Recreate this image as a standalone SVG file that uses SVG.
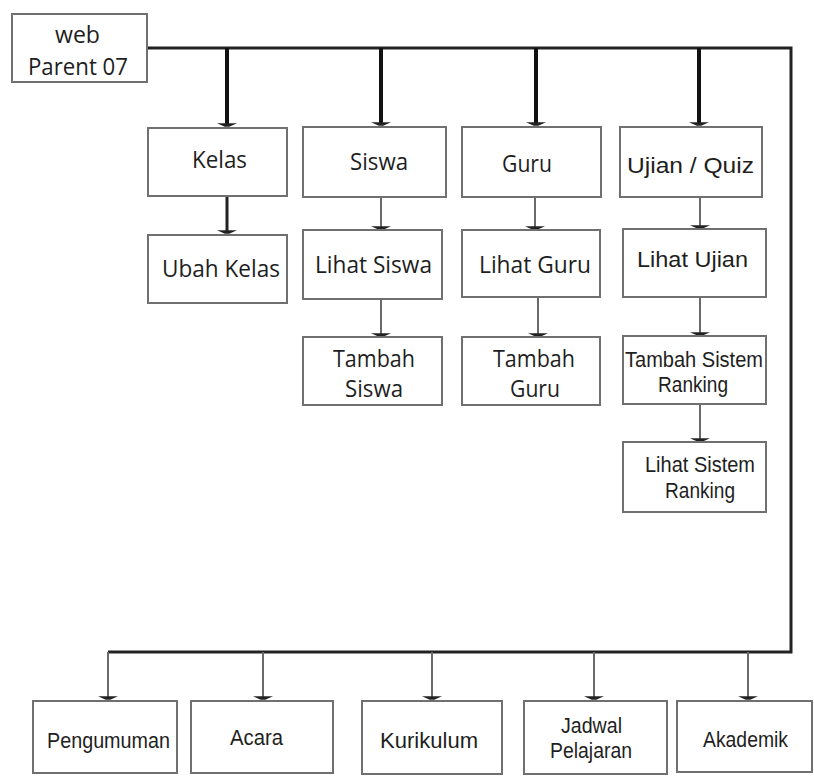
<svg xmlns="http://www.w3.org/2000/svg" width="814" height="780" viewBox="0 0 814 780">
<style>
  .box{fill:#fff;stroke:#707070;stroke-width:2}
  .os{font-family:"Open Sans","DejaVu Sans",sans-serif;font-size:23px;fill:#1e1e1e}
  .ar{font-family:"Liberation Sans",Arial,sans-serif;font-size:22px;fill:#1e1e1e}
  .thick{stroke:#111;stroke-width:4;fill:none}
  .mid{stroke:#222;stroke-width:3;fill:none}
  .thin{stroke:#6a6a6a;stroke-width:2;fill:none}
</style>
<defs>
  <marker id="tick" markerUnits="userSpaceOnUse" markerWidth="20" markerHeight="6" viewBox="0 0 18 4" refX="9" refY="2" orient="0">
    <path d="M0 0.5 H18 L11 3.5 H7 Z" fill="#222"/>
  </marker>
</defs>
<rect width="814" height="780" fill="#fff"/>
<g id="connectors">
  <path class="mid" d="M147 48 H791 V652 H108"/>
  <path class="thick" d="M227 48 V125" marker-end="url(#tick)"/>
  <path class="thick" d="M381 48 V124" marker-end="url(#tick)"/>
  <path class="thick" d="M536 48 V124" marker-end="url(#tick)"/>
  <path class="thick" d="M699 48 V124" marker-end="url(#tick)"/>
  <path class="mid" d="M227 197 V232" marker-end="url(#tick)"/>
  <path class="thin" d="M381 197 V228" marker-end="url(#tick)"/>
  <path class="thin" d="M381 299 V335" marker-end="url(#tick)"/>
  <path class="thin" d="M535 197 V228" marker-end="url(#tick)"/>
  <path class="thin" d="M538 297 V335" marker-end="url(#tick)"/>
  <path class="thin" d="M700 197 V227" marker-end="url(#tick)"/>
  <path class="thin" d="M700 297 V334" marker-end="url(#tick)"/>
  <path class="thin" d="M700 404 V440" marker-end="url(#tick)"/>
  <path class="thin" d="M108 652 V698" marker-end="url(#tick)"/>
  <path class="thin" d="M263 652 V698" marker-end="url(#tick)"/>
  <path class="thin" d="M432 652 V698" marker-end="url(#tick)"/>
  <path class="thin" d="M594 652 V698" marker-end="url(#tick)"/>
  <path class="thin" d="M748 652 V698" marker-end="url(#tick)"/>
</g>
<g id="root"><rect class="box" x="12" y="14" width="135" height="68"/>
  <text class="os" x="55" y="43" textLength="45" lengthAdjust="spacingAndGlyphs">web</text>
  <text class="os" x="28" y="75" textLength="100" lengthAdjust="spacingAndGlyphs">Parent 07</text></g>
<g id="kelas"><rect class="box" x="148" y="128" width="139" height="68"/>
  <text class="os" x="192" y="168" textLength="55" lengthAdjust="spacingAndGlyphs">Kelas</text></g>
<g id="ubah-kelas"><rect class="box" x="148" y="235" width="139" height="68"/>
  <text class="os" x="162" y="277" textLength="118" lengthAdjust="spacingAndGlyphs">Ubah Kelas</text></g>
<g id="siswa"><rect class="box" x="303" y="127" width="143" height="70"/>
  <text class="os" x="350" y="170" textLength="58" lengthAdjust="spacingAndGlyphs">Siswa</text></g>
<g id="lihat-siswa"><rect class="box" x="303" y="230" width="139" height="69"/>
  <text class="os" x="315" y="273" textLength="117" lengthAdjust="spacingAndGlyphs">Lihat Siswa</text></g>
<g id="tambah-siswa"><rect class="box" x="303" y="337" width="139" height="68"/>
  <text class="os" x="333" y="367" textLength="82" lengthAdjust="spacingAndGlyphs">Tambah</text>
  <text class="os" x="345" y="397" textLength="58" lengthAdjust="spacingAndGlyphs">Siswa</text></g>
<g id="guru"><rect class="box" x="462" y="127" width="139" height="70"/>
  <text class="os" x="502" y="172" textLength="50" lengthAdjust="spacingAndGlyphs">Guru</text></g>
<g id="lihat-guru"><rect class="box" x="462" y="230" width="138" height="67"/>
  <text class="os" x="479" y="273" textLength="112" lengthAdjust="spacingAndGlyphs">Lihat Guru</text></g>
<g id="tambah-guru"><rect class="box" x="462" y="337" width="138" height="68"/>
  <text class="os" x="493" y="367" textLength="82" lengthAdjust="spacingAndGlyphs">Tambah</text>
  <text class="os" x="510" y="397" textLength="50" lengthAdjust="spacingAndGlyphs">Guru</text></g>
<g id="ujian"><rect class="box" x="620" y="127" width="142" height="70"/>
  <text class="ar" x="627" y="173" font-size="23" textLength="127" lengthAdjust="spacingAndGlyphs">Ujian / Quiz</text></g>
<g id="lihat-ujian"><rect class="box" x="623" y="229" width="143" height="68"/>
  <text class="ar" x="637" y="267" font-size="23" textLength="111" lengthAdjust="spacingAndGlyphs">Lihat Ujian</text></g>
<g id="tambah-sistem-ranking"><rect class="box" x="623" y="336" width="143" height="68"/>
  <text class="ar" x="625" y="367" font-size="21" textLength="138" lengthAdjust="spacingAndGlyphs">Tambah Sistem</text>
  <text class="ar" x="658" y="392" font-size="21" textLength="70" lengthAdjust="spacingAndGlyphs">Ranking</text></g>
<g id="lihat-sistem-ranking"><rect class="box" x="623" y="442" width="143" height="70"/>
  <text class="ar" x="645" y="472" font-size="21" textLength="110" lengthAdjust="spacingAndGlyphs">Lihat Sistem</text>
  <text class="ar" x="665" y="498" font-size="21" textLength="70" lengthAdjust="spacingAndGlyphs">Ranking</text></g>
<g id="pengumuman"><rect class="box" x="33" y="701" width="144" height="72"/>
  <text class="ar" x="47" y="748" textLength="123" lengthAdjust="spacingAndGlyphs">Pengumuman</text></g>
<g id="acara"><rect class="box" x="191" y="701" width="142" height="72"/>
  <text class="ar" x="230" y="745" textLength="53" lengthAdjust="spacingAndGlyphs">Acara</text></g>
<g id="kurikulum"><rect class="box" x="362" y="701" width="140" height="73"/>
  <text class="ar" x="380" y="748" textLength="98" lengthAdjust="spacingAndGlyphs">Kurikulum</text></g>
<g id="jadwal-pelajaran"><rect class="box" x="524" y="701" width="143" height="73"/>
  <text class="ar" x="561" y="733" font-size="20" textLength="61" lengthAdjust="spacingAndGlyphs">Jadwal</text>
  <text class="ar" x="550" y="758" font-size="20" textLength="82" lengthAdjust="spacingAndGlyphs">Pelajaran</text></g>
<g id="akademik"><rect class="box" x="677" y="701" width="135" height="71"/>
  <text class="ar" x="703" y="747" font-size="20" textLength="85" lengthAdjust="spacingAndGlyphs">Akademik</text></g>
</svg>
